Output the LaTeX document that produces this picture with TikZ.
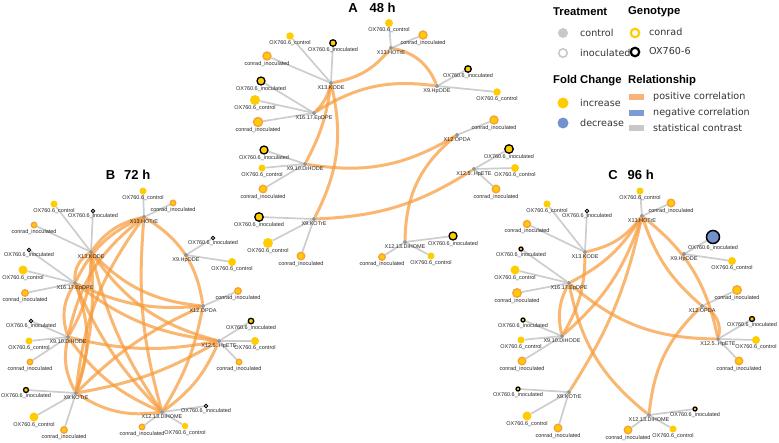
\documentclass[tikz,border=0pt]{standalone}
\usepackage{fontspec}
\setmainfont{Liberation Sans}
\newfontfamily\legfont{DejaVu Sans}
\usepackage{tikz}
\usetikzlibrary{backgrounds}
\definecolor{fcyellow}{RGB}{255, 204, 0}
\definecolor{cinorange}{RGB}{247, 160, 64}
\definecolor{hubgray}{RGB}{150, 150, 150}
\definecolor{edgegray}{RGB}{205, 205, 205}
\definecolor{corrorange}{RGB}{246, 155, 60}
\definecolor{posswatch}{RGB}{249, 178, 122}
\definecolor{negblue}{RGB}{125, 155, 212}
\definecolor{decblue}{RGB}{115, 145, 205}
\definecolor{trtgray}{RGB}{200, 200, 200}

\begin{document}
\begin{tikzpicture}[x=1pt, y=-1pt,
    hub/.style={circle, fill=hubgray, inner sep=0pt, minimum size=4},
    ctl/.style={circle, fill=fcyellow, inner sep=0pt, minimum size=#1},
    cin/.style={circle, fill=fcyellow, draw=cinorange, line width=1.4pt, inner sep=0pt, minimum size=#1},
    oin/.style={circle, fill=fcyellow, draw=black, line width=1.3pt, inner sep=0pt, minimum size=#1},
    oinw/.style={circle, fill=white, draw=black, line width=0.8pt, inner sep=0pt, minimum size=#1},
    contrast/.style={draw=edgegray, line width=1.7pt},
    poscor/.style={draw=corrorange, line width=3pt, draw opacity=0.72},
    ttl/.style={font=\fontsize{13}{14}\selectfont\bfseries, inner sep=0pt},
    head/.style={font=\fontsize{11.3}{12}\selectfont\bfseries, inner sep=0pt, anchor=west},
    legtxt/.style={font=\legfont\fontsize{9.6}{11}\selectfont, text=black!80, inner sep=0pt, anchor=west},
    label distance=0.6pt,
    every label/.style={font=\fontsize{5.5}{6}\selectfont, inner sep=0pt, text=black!85}]
    \useasboundingbox (0,0) rectangle (779,442);

    % ---------------- A: 48 h
    \node[ttl] (a-title) at (372,8) {A\hspace{12pt}48 h};
    \node[hub, label=below:X13.HOTrE] (a-hotre) at (391,48) {};
    \node[ctl=8, label=below:OX760.6\_control] (a-hotre-c) at (389,23) {};
    \node[cin=8, label=below:conrad\_inoculated] (a-hotre-ci) at (423,35) {};
    \node[hub, label=below:X13.KODE] (a-kode) at (331,83) {};
    \node[ctl=7.5, label=below:OX760.6\_control] (a-kode-c) at (290,36) {};
    \node[oin=6.5, label=below:OX760.6\_inoculated] (a-kode-oi) at (333,43) {};
    \node[cin=8, label=below:conrad\_inoculated] (a-kode-ci) at (267,56) {};
    \node[hub, label=below:X9.HpODE] (a-hpode) at (437,86) {};
    \node[oin=6.5, label=below:OX760.6\_inoculated] (a-hpode-oi) at (468,69) {};
    \node[ctl=7.5, label=below:OX760.6\_control] (a-hpode-c) at (497,92) {};
    \node[hub, label=below:X16.17.EpDPE] (a-epdpe) at (314,113) {};
    \node[oin=8, label=below:OX760.6\_inoculated] (a-epdpe-oi) at (261,81) {};
    \node[ctl=10, label=below:OX760.6\_control] (a-epdpe-c) at (255,100) {};
    \node[cin=9, label=below:conrad\_inoculated] (a-epdpe-ci) at (258,122) {};
    \node[hub, label=below:X12.OPDA] (a-opda) at (457,135) {};
    \node[cin=8, label=below:conrad\_inoculated] (a-opda-ci) at (494,120) {};
    \node[hub, label=below:X9.10.DiHODE] (a-dihode) at (305,164) {};
    \node[oin=8, label=below:OX760.6\_inoculated] (a-dihode-oi) at (264,150) {};
    \node[ctl=7, label=below:OX760.6\_control] (a-dihode-c) at (262,168) {};
    \node[cin=7.5, label=below:conrad\_inoculated] (a-dihode-ci) at (263,189) {};
    \node[hub, label=below:X12.5..HpETE] (a-hpete) at (474,169) {};
    \node[oin=8.5, label=below:OX760.6\_inoculated] (a-hpete-oi) at (509,149) {};
    \node[ctl=8, label=below:OX760.6\_control] (a-hpete-c) at (515,168) {};
    \node[cin=7.5, label=below:conrad\_inoculated] (a-hpete-ci) at (496,189) {};
    \node[hub, label=below:X9.KOTrE] (a-kotre) at (314,219) {};
    \node[oin=8.5, label=below:OX760.6\_inoculated] (a-kotre-oi) at (259,217) {};
    \node[ctl=10, label=below:OX760.6\_control] (a-kotre-c) at (268,243) {};
    \node[cin=7.5, label=below:conrad\_inoculated] (a-kotre-ci) at (301,256) {};
    \node[hub, label=below:X12.13.DiHOME] (a-dihome) at (405,242) {};
    \node[oin=8, label=below:OX760.6\_inoculated] (a-dihome-oi) at (453,236) {};
    \node[cin=6.5, label=below:conrad\_inoculated] (a-dihome-ci) at (382,257) {};
    \node[ctl=7, label=below:OX760.6\_control] (a-dihome-c) at (431,256) {};

    % ---------------- B: 72 h
    \node[ttl] (b-title) at (128,175) {B\hspace{9pt}72 h};
    \node[hub, label=below:X13.HOTrE] (b-hotre) at (144,217) {};
    \node[ctl=7, label=below:OX760.6\_control] (b-hotre-c) at (143,191) {};
    \node[cin=5.5, label=below:conrad\_inoculated] (b-hotre-ci) at (173,203) {};
    \node[hub, label=below:X13.KODE] (b-kode) at (91,252) {};
    \node[ctl=7, label=below:OX760.6\_control] (b-kode-c) at (54,204) {};
    \node[oinw=3.5, label=below:OX760.6\_inoculated] (b-kode-oi) at (93,211) {};
    \node[cin=5.5, label=below:conrad\_inoculated] (b-kode-ci) at (34,225) {};
    \node[hub, label=below:X9.HpODE] (b-hpode) at (186,255) {};
    \node[oinw=3.5, label=below:OX760.6\_inoculated] (b-hpode-oi) at (213,238) {};
    \node[ctl=8, label=below:OX760.6\_control] (b-hpode-c) at (232,262) {};
    \node[hub, label=below:X16.17.EpDPE] (b-epdpe) at (75,283) {};
    \node[oinw=3.5, label=below:OX760.6\_inoculated] (b-epdpe-oi) at (29,250) {};
    \node[ctl=9, label=below:OX760.6\_control] (b-epdpe-c) at (23,270) {};
    \node[cin=6.5, label=below:conrad\_inoculated] (b-epdpe-ci) at (25,293) {};
    \node[hub, label=below:X12.OPDA] (b-opda) at (203,306) {};
    \node[cin=6.5, label=below:conrad\_inoculated] (b-opda-ci) at (238,291) {};
    \node[hub, label=below:X9.10.DiHODE] (b-dihode) at (68,337) {};
    \node[oinw=3.5, label=below:OX760.6\_inoculated] (b-dihode-oi) at (31,321) {};
    \node[ctl=7, label=below:OX760.6\_control] (b-dihode-c) at (29,341) {};
    \node[cin=5.5, label=below:conrad\_inoculated] (b-dihode-ci) at (30,362) {};
    \node[hub, label=below:X12.5..HpETE] (b-hpete) at (219,341) {};
    \node[oin=5.5, label=below:OX760.6\_inoculated] (b-hpete-oi) at (251,321) {};
    \node[ctl=8, label=below:OX760.6\_control] (b-hpete-c) at (255,341) {};
    \node[cin=5.5, label=below:conrad\_inoculated] (b-hpete-ci) at (239,362) {};
    \node[hub, label=below:X9.KOTrE] (b-kotre) at (76,393) {};
    \node[oin=5, label=below:OX760.6\_inoculated] (b-kotre-oi) at (26,390) {};
    \node[ctl=9, label=below:OX760.6\_control] (b-kotre-c) at (34,417) {};
    \node[cin=6.5, label=below:conrad\_inoculated] (b-kotre-ci) at (64,430) {};
    \node[hub, label=below:X12.13.DiHOME] (b-dihome) at (162,412) {};
    \node[oinw=3.5, label=below:OX760.6\_inoculated] (b-dihome-oi) at (206,406) {};
    \node[cin=5.5, label=below:conrad\_inoculated] (b-dihome-ci) at (142,427) {};
    \node[ctl=6.5, label=below:OX760.6\_control] (b-dihome-c) at (185,426) {};

    % ---------------- C: 96 h
    \node[ttl] (c-title) at (631,175) {C\hspace{10pt}96 h};
    \node[hub, label=below:X13.HOTrE] (c-hotre) at (642,216) {};
    \node[ctl=7, label=below:OX760.6\_control] (c-hotre-c) at (640,191) {};
    \node[cin=7.5, label=below:conrad\_inoculated] (c-hotre-ci) at (671,203) {};
    \node[hub, label=below:X13.KODE] (c-kode) at (585,252) {};
    \node[ctl=7, label=below:OX760.6\_control] (c-kode-c) at (547,204) {};
    \node[oinw=3.5, label=below:OX760.6\_inoculated] (c-kode-oi) at (587,211) {};
    \node[cin=7, label=below:conrad\_inoculated] (c-kode-ci) at (527,224) {};
    \node[hub, label=below:X9.HpODE] (c-hpode) at (684,254) {};
    \node[circle, fill=decblue, draw=black, line width=1.5pt, inner sep=0pt, minimum size=13,
      label=below:OX760.6\_inoculated] (c-hpode-oi) at (713,237) {};
    \node[ctl=8, label=below:OX760.6\_control] (c-hpode-c) at (732,261) {};
    \node[hub, label=below:X16.17.EpDPE] (c-epdpe) at (569,283) {};
    \node[oin=4, label=below:OX760.6\_inoculated] (c-epdpe-oi) at (521,249) {};
    \node[ctl=9, label=below:OX760.6\_control] (c-epdpe-c) at (515,270) {};
    \node[cin=8.5, label=below:conrad\_inoculated] (c-epdpe-ci) at (517,293) {};
    \node[hub, label=below:X12.OPDA] (c-opda) at (702,306) {};
    \node[cin=8.5, label=below:conrad\_inoculated] (c-opda-ci) at (737,290) {};
    \node[hub, label=below:X9.10.DiHODE] (c-dihode) at (562,336) {};
    \node[oin=4, label=below:OX760.6\_inoculated] (c-dihode-oi) at (523,320) {};
    \node[ctl=7, label=below:OX760.6\_control] (c-dihode-c) at (521,340) {};
    \node[cin=7.5, label=below:conrad\_inoculated] (c-dihode-ci) at (522,361) {};
    \node[hub, label=below:X12.5..HpETE] (c-hpete) at (718,339) {};
    \node[oin=5, label=below:OX760.6\_inoculated] (c-hpete-oi) at (752,319) {};
    \node[ctl=8, label=below:OX760.6\_control] (c-hpete-c) at (756,340) {};
    \node[cin=7.5, label=below:conrad\_inoculated] (c-hpete-ci) at (739,361) {};
    \node[hub, label=below:X9.KOTrE] (c-kotre) at (569,392) {};
    \node[oin=4, label=below:OX760.6\_inoculated] (c-kotre-oi) at (518,389) {};
    \node[ctl=9, label=below:OX760.6\_control] (c-kotre-c) at (527,416) {};
    \node[cin=7.5, label=below:conrad\_inoculated] (c-kotre-ci) at (558,428) {};
    \node[hub, label=below:X12.13.DiHOME] (c-dihome) at (649,415) {};
    \node[oin=4, label=below:OX760.6\_inoculated] (c-dihome-oi) at (695,409) {};
    \node[cin=7.5, label=below:conrad\_inoculated] (c-dihome-ci) at (628,430) {};
    \node[ctl=7, label=below:OX760.6\_control] (c-dihome-c) at (673,429) {};

    \begin{scope}[on background layer]
    % statistical contrasts
    \draw[contrast] (a-hotre) -- (a-hotre-c) (a-hotre) -- (a-hotre-ci);
    \draw[contrast] (a-kode) -- (a-kode-c) (a-kode) -- (a-kode-oi) (a-kode) -- (a-kode-ci);
    \draw[contrast] (a-hpode) -- (a-hpode-oi) (a-hpode) -- (a-hpode-c);
    \draw[contrast] (a-epdpe) -- (a-epdpe-oi) (a-epdpe) -- (a-epdpe-c) (a-epdpe) -- (a-epdpe-ci);
    \draw[contrast] (a-opda) -- (a-opda-ci);
    \draw[contrast] (a-dihode) -- (a-dihode-oi) (a-dihode) -- (a-dihode-c) (a-dihode) -- (a-dihode-ci);
    \draw[contrast] (a-hpete) -- (a-hpete-oi) (a-hpete) -- (a-hpete-c) (a-hpete) -- (a-hpete-ci);
    \draw[contrast] (a-kotre) -- (a-kotre-oi) (a-kotre) -- (a-kotre-c) (a-kotre) -- (a-kotre-ci);
    \draw[contrast] (a-dihome) -- (a-dihome-oi) (a-dihome) -- (a-dihome-ci) (a-dihome) -- (a-dihome-c);

    \draw[contrast] (b-hotre) -- (b-hotre-c) (b-hotre) -- (b-hotre-ci);
    \draw[contrast] (b-kode) -- (b-kode-c) (b-kode) -- (b-kode-oi) (b-kode) -- (b-kode-ci);
    \draw[contrast] (b-hpode) -- (b-hpode-oi) (b-hpode) -- (b-hpode-c);
    \draw[contrast] (b-epdpe) -- (b-epdpe-oi) (b-epdpe) -- (b-epdpe-c) (b-epdpe) -- (b-epdpe-ci);
    \draw[contrast] (b-opda) -- (b-opda-ci);
    \draw[contrast] (b-dihode) -- (b-dihode-oi) (b-dihode) -- (b-dihode-c) (b-dihode) -- (b-dihode-ci);
    \draw[contrast] (b-hpete) -- (b-hpete-oi) (b-hpete) -- (b-hpete-c) (b-hpete) -- (b-hpete-ci);
    \draw[contrast] (b-kotre) -- (b-kotre-oi) (b-kotre) -- (b-kotre-c) (b-kotre) -- (b-kotre-ci);
    \draw[contrast] (b-dihome) -- (b-dihome-oi) (b-dihome) -- (b-dihome-ci) (b-dihome) -- (b-dihome-c);

    \draw[contrast] (c-hotre) -- (c-hotre-c) (c-hotre) -- (c-hotre-ci);
    \draw[contrast] (c-kode) -- (c-kode-c) (c-kode) -- (c-kode-oi) (c-kode) -- (c-kode-ci);
    \draw[contrast] (c-hpode) -- (c-hpode-oi) (c-hpode) -- (c-hpode-c);
    \draw[contrast] (c-epdpe) -- (c-epdpe-oi) (c-epdpe) -- (c-epdpe-c) (c-epdpe) -- (c-epdpe-ci);
    \draw[contrast] (c-opda) -- (c-opda-ci);
    \draw[contrast] (c-dihode) -- (c-dihode-oi) (c-dihode) -- (c-dihode-c) (c-dihode) -- (c-dihode-ci);
    \draw[contrast] (c-hpete) -- (c-hpete-oi) (c-hpete) -- (c-hpete-c) (c-hpete) -- (c-hpete-ci);
    \draw[contrast] (c-kotre) -- (c-kotre-oi) (c-kotre) -- (c-kotre-c) (c-kotre) -- (c-kotre-ci);
    \draw[contrast] (c-dihome) -- (c-dihome-oi) (c-dihome) -- (c-dihome-ci) (c-dihome) -- (c-dihome-c);

    % positive correlations, 48 h
    \draw[poscor] (a-kode) to[bend right=20] (a-hotre);
    \draw[poscor] (a-hotre) to[bend left=28] (a-hpode);
    \draw[poscor] (a-epdpe) to[bend left=20] (a-hpode);
    \draw[poscor] (a-kode) to[bend left=15] (a-epdpe);
    \draw[poscor] (a-kode) to[bend left=10] (a-dihode);
    \draw[poscor] (a-kode) to[bend left=20] (a-kotre);
    \draw[poscor] (a-dihode) to[bend right=20] (a-opda);
    \draw[poscor] (a-kotre) to[bend right=15] (a-hpete);
    \draw[poscor] (a-opda) to[bend right=25] (a-dihome);

    % positive correlations, 72 h
    \draw[poscor] (b-hotre) to[bend right=20] (b-kode);
    \draw[poscor] (b-hotre) to[bend right=20] (b-epdpe);
    \draw[poscor] (b-hotre) to[bend right=20] (b-dihode);
    \draw[poscor] (b-hotre) to[bend right=15] (b-kotre);
    \draw[poscor] (b-hotre) to[bend right=10] (b-dihome);
    \draw[poscor] (b-hotre) to[bend left=25] (b-opda);
    \draw[poscor] (b-kode) to[bend right=20] (b-opda);
    \draw[poscor] (b-kode) to[bend right=20] (b-hpete);
    \draw[poscor] (b-epdpe) to[bend right=15] (b-opda);
    \draw[poscor] (b-epdpe) to[bend right=15] (b-hpete);
    \draw[poscor] (b-dihode) to[bend right=12] (b-hpete);
    \draw[poscor] (b-kotre) to[bend right=10] (b-hpete);
    \draw[poscor] (b-kotre) to[bend left=10] (b-opda);
    \draw[poscor] (b-dihome) to[bend right=15] (b-hpete);
    \draw[poscor] (b-dihome) to[bend left=15] (b-dihode);
    \draw[poscor] (b-dihome) to[bend left=10] (b-kode);
    \draw[poscor] (b-dihome) to[bend left=10] (b-epdpe);
    \draw[poscor] (b-kotre) to[bend right=20] (b-dihome);
    \draw[poscor] (b-kode) to[bend right=30] (b-epdpe);
    \draw[poscor] (b-kode) to[bend left=15] (b-dihode);
    \draw[poscor] (b-kode) to[bend left=10] (b-kotre);
    \draw[poscor] (b-epdpe) to[bend right=25] (b-dihode);
    \draw[poscor] (b-epdpe) to[bend left=20] (b-kotre);
    \draw[poscor] (b-dihode) to[bend right=20] (b-kotre);
    \draw[poscor] (b-opda) to[bend left=10] (b-dihome);

    % positive correlations, 96 h
    \draw[poscor] (c-kode) to[bend right=20] (c-hotre);
    \draw[poscor] (c-epdpe) to[bend right=15] (c-hotre);
    \draw[poscor] (c-dihode) to[bend right=15] (c-hotre);
    \draw[poscor] (c-kotre) to[bend right=10] (c-hotre);
    \draw[poscor] (c-hotre) to[bend right=15] (c-opda);
    \draw[poscor] (c-hotre) to[bend left=20] (c-hpete);
    \draw[poscor] (c-opda) to[bend left=40] (c-hpete);
    \draw[poscor] (c-epdpe) to[bend right=20] (c-hpete);
    \draw[poscor] (c-epdpe) to[bend right=20] (c-dihode);
    \draw[poscor] (c-kode) to[bend left=15] (c-dihode);
    \draw[poscor] (c-epdpe) to[bend right=20] (c-dihome);
    \draw[poscor] (c-dihome) to[bend left=20] (c-opda);
    \end{scope}

    % ---------------- legend
    \node[head] (leg-trt) at (553,12) {Treatment};
    \node[circle, fill=trtgray, inner sep=0pt, minimum size=10] (leg-ctl) at (563,33) {};
    \node[legtxt] (leg-ctl-t) at (580,33) {control};
    \node[circle, draw=trtgray, line width=1.6pt, inner sep=0pt, minimum size=8.5] (leg-inoc) at (563,53) {};
    \node[legtxt] (leg-inoc-t) at (580,53) {inoculated};
    \node[head] (leg-fc) at (553,81) {Fold Change};
    \node[circle, fill=fcyellow, inner sep=0pt, minimum size=11] (leg-inc) at (563,103) {};
    \node[legtxt] (leg-inc-t) at (580,103) {increase};
    \node[circle, fill=decblue, inner sep=0pt, minimum size=11] (leg-dec) at (563,123) {};
    \node[legtxt] (leg-dec-t) at (580,123) {decrease};
    \node[head] (leg-gen) at (628,12) {Genotype};
    \node[circle, draw=fcyellow, line width=2.2pt, inner sep=0pt, minimum size=8.5] (leg-con) at (635,33) {};
    \node[legtxt] (leg-con-t) at (649,32) {conrad};
    \node[circle, draw=black, line width=2.2pt, inner sep=0pt, minimum size=8.5] (leg-ox) at (635,52) {};
    \node[legtxt] (leg-ox-t) at (649,51) {OX760-6};
    \node[head] (leg-rel) at (628,81) {Relationship};
    \node[fill=posswatch, inner sep=0pt, minimum width=15, minimum height=6] (leg-pos) at (636,97) {};
    \node[legtxt] (leg-pos-t) at (653,97) {positive correlation};
    \node[fill=negblue, inner sep=0pt, minimum width=15, minimum height=6] (leg-neg) at (636,113) {};
    \node[legtxt] (leg-neg-t) at (653,113) {negative correlation};
    \node[fill=trtgray, inner sep=0pt, minimum width=15, minimum height=6] (leg-stat) at (636,128) {};
    \node[legtxt] (leg-stat-t) at (653,128) {statistical contrast};
\end{tikzpicture}
\end{document}
